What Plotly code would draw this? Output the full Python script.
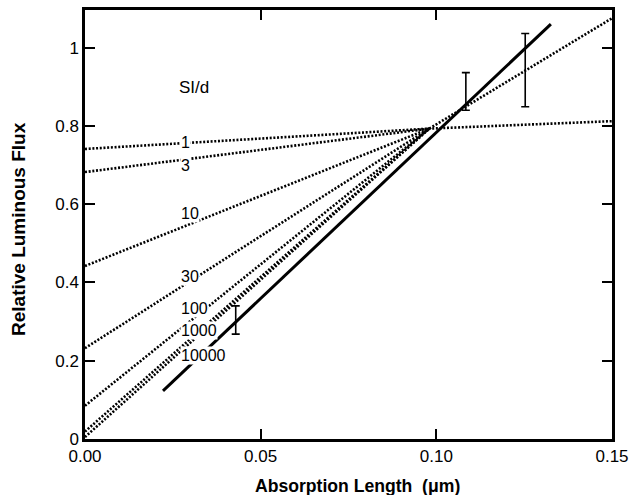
import plotly.graph_objects as go

# ---- data ----
si_labels = ["1", "3", "10", "30", "100", "1000", "10000"]
conv_x = 0.098
conv_y = 0.793
intercepts = [0.741, 0.682, 0.442, 0.232, 0.085, 0.019, 0.005]

# line "1" continues past the convergence point
line1_end_x = 0.15
line1_end_y = 0.812

# steep dotted branch beyond the convergence point
steep_x = [0.098, 0.15]
steep_y = [0.793, 1.075]

# solid line
solid_x = [0.0222, 0.1326]
solid_y = [0.123, 1.060]

# error bars
err_x = [0.0429, 0.1084, 0.1253]
err_lo = [0.268, 0.840, 0.849]
err_hi = [0.340, 0.936, 1.036]

# label positions (left edge x, centre y)
lab_x = [0.0270, 0.0270, 0.0270, 0.0270, 0.0270, 0.0270, 0.0270]
lab_y = [0.757, 0.698, 0.5765, 0.4146, 0.334, 0.2767, 0.2146]
title_lab = "SI/d"
title_lab_x = 0.0262
title_lab_y = 0.897

xtick_vals = [0.0, 0.05, 0.10, 0.15]
xtick_text = ["0.00", "0.05", "0.10", "0.15"]
ytick_vals = [0, 0.2, 0.4, 0.6, 0.8, 1.0]
ytick_text = ["0", "0.2", "0.4", "0.6", "0.8", "1"]

FONT = "Liberation Sans, Arial, Helvetica, sans-serif"
DOT = dict(color="black", width=2.6, dash="2px,1.7px")

fig = go.Figure()

for lab, b in zip(si_labels, intercepts):
    xs = [0.0, conv_x]
    ys = [b, conv_y]
    if lab == "1":
        xs.append(line1_end_x)
        ys.append(line1_end_y)
    fig.add_trace(go.Scatter(x=xs, y=ys, mode="lines", line=DOT,
                             showlegend=False, hoverinfo="skip"))

fig.add_trace(go.Scatter(x=steep_x, y=steep_y, mode="lines", line=DOT,
                         showlegend=False, hoverinfo="skip"))

fig.add_trace(go.Scatter(x=solid_x, y=solid_y, mode="lines",
                         line=dict(color="black", width=3),
                         showlegend=False, hoverinfo="skip"))

mid = [(a + b) / 2 for a, b in zip(err_lo, err_hi)]
fig.add_trace(go.Scatter(
    x=err_x, y=mid, mode="markers",
    marker=dict(size=1, color="rgba(0,0,0,0)"),
    error_y=dict(type="data", symmetric=False,
                 array=[h - m for h, m in zip(err_hi, mid)],
                 arrayminus=[m - l for m, l in zip(mid, err_lo)],
                 color="black", thickness=1.6, width=4),
    showlegend=False, hoverinfo="skip"))

for lab, lx, ly in zip(si_labels, lab_x, lab_y):
    fig.add_annotation(x=lx, y=ly, text=lab, showarrow=False,
                       xanchor="left", yanchor="middle",
                       font=dict(family=FONT, size=16, color="black"),
                       bgcolor="white", borderpad=0)

fig.add_annotation(x=title_lab_x, y=title_lab_y, text=title_lab, showarrow=False,
                   xanchor="left", yanchor="middle",
                   font=dict(family=FONT, size=17, color="black"))

# axis titles
fig.add_annotation(x=0.518, y=0.0, xref="paper", yref="paper",
                   text="Absorption Length\u00a0\u00a0(μm)", showarrow=False,
                   xanchor="center", yanchor="middle", yshift=-47,
                   font=dict(family=FONT, size=17.6, color="black", weight="bold"))
fig.add_annotation(x=0, y=0.4895, xref="paper", yref="paper",
                   text="Relative Luminous Flux", showarrow=False, textangle=-90,
                   xanchor="center", yanchor="middle", xshift=-67,
                   font=dict(family=FONT, size=19, color="black", weight="bold"))

axis_common = dict(showgrid=False, zeroline=False, showline=True,
                   linecolor="black", linewidth=2.5, mirror="ticks",
                   ticks="inside", ticklen=10, tickwidth=2, tickcolor="black",
                   automargin=False,
                   tickfont=dict(family=FONT, size=17, color="black"))

fig.update_xaxes(range=[0, 0.15], tickvals=xtick_vals, ticktext=xtick_text,
                 **axis_common)
fig.update_yaxes(range=[0, 1.096], tickvals=ytick_vals, ticktext=ytick_text,
                 **axis_common)

fig.update_layout(width=630, height=495,
                  margin=dict(l=85, r=18, t=10, b=56, autoexpand=False),
                  plot_bgcolor="white", paper_bgcolor="white",
                  showlegend=False)

fig.write_html("out.html",
               config={"displayModeBar": False},
               post_script="document.body.style.margin='0px';"
                           "document.body.style.overflow='hidden';")
